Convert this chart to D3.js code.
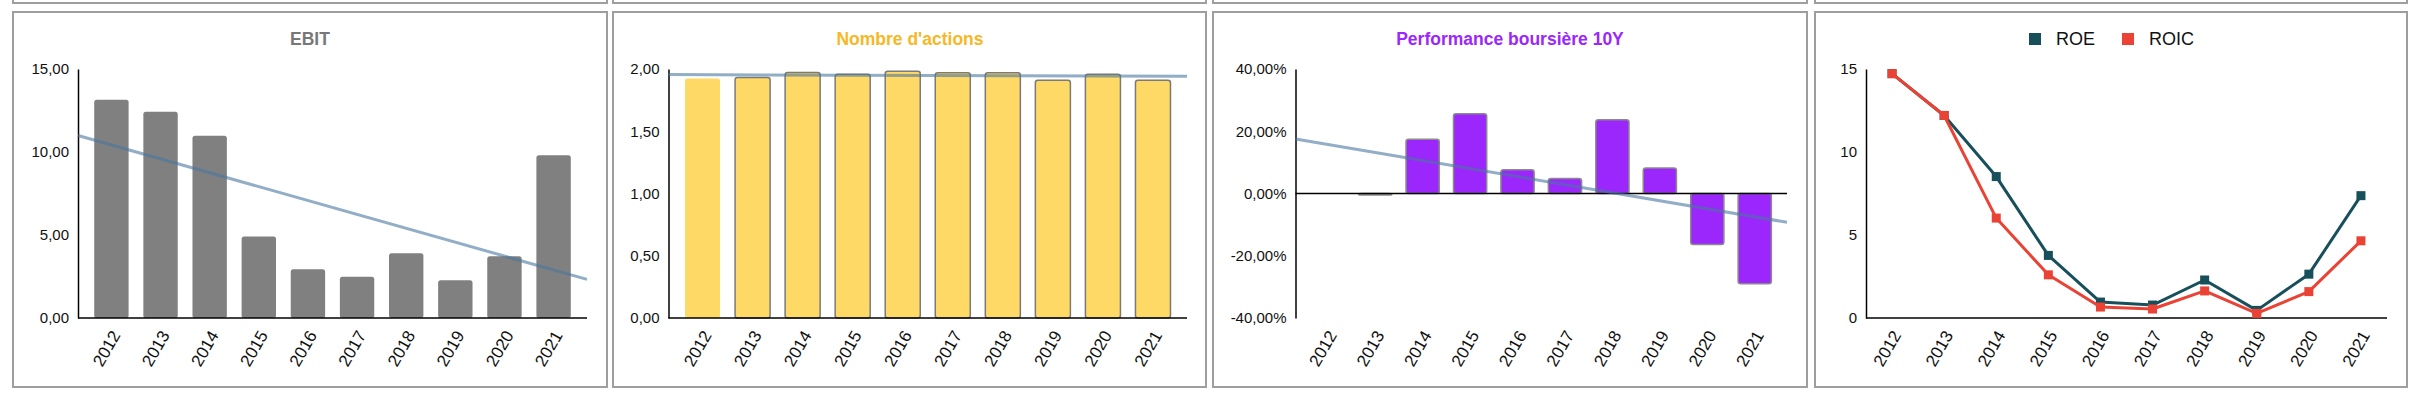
<!DOCTYPE html>
<html>
<head>
<meta charset="utf-8">
<script src="https://cdn.jsdelivr.net/npm/d3@7"></script>
<style>
  body { margin: 0; background: #fff; }
  svg { display: block; font-family: "Liberation Sans", Arial, sans-serif; }
</style>
</head>
<body>
<div id="chart"></div>
<script>
// données
const years = ['2012', '2013', '2014', '2015', '2016', '2017', '2018', '2019', '2020', '2021'];
const ebit = [13.15, 12.43, 10.98, 4.91, 2.94, 2.48, 3.90, 2.27, 3.72, 9.81];
const nbActions = [1.923, 1.931, 1.971, 1.958, 1.982, 1.969, 1.969, 1.909, 1.958, 1.909];
const perf10y = [0, -0.005, 0.174, 0.256, 0.076, 0.048, 0.237, 0.082, -0.164, -0.290];
const roe = [14.72, 12.20, 8.52, 3.77, 0.96, 0.78, 2.29, 0.46, 2.64, 7.37];
const roic = [14.72, 12.20, 6.02, 2.60, 0.66, 0.54, 1.63, 0.28, 1.59, 4.65];

const ebitTicks = [0, 5, 10, 15];
const actionsTicks = [0, 0.5, 1, 1.5, 2];
const perfTicks = [-0.4, -0.2, 0, 0.2, 0.4];
const ratioTicks = [0, 5, 10, 15];

const width = 2420;
const height = 396;
const plotTop = 69;
const plotBottom = 318;

const fr = d3.formatLocale({ decimal: ',', thousands: ' ', grouping: [3], currency: ['', ' €'], minus: '-' });

const svg = d3.select('#chart')
    .append('svg')
    .attr('width', width)
    .attr('height', height);

// cadres des 4 panneaux
const panels = [[13, 594], [613, 593], [1213, 594], [1815, 592]];
panels.forEach(function(p) {
    svg.append('rect')
        .attr('x', p[0]).attr('y', -380)
        .attr('width', p[1]).attr('height', 383)
        .attr('fill', 'none').attr('stroke', '#9e9e9e').attr('stroke-width', 2);
    svg.append('rect')
        .attr('x', p[0]).attr('y', 12)
        .attr('width', p[1]).attr('height', 375)
        .attr('fill', 'none').attr('stroke', '#9e9e9e').attr('stroke-width', 2);
});

function title(cx, text, color) {
    svg.append('text')
        .attr('x', cx).attr('y', 45)
        .attr('text-anchor', 'middle')
        .attr('font-size', '17.5px')
        .attr('font-weight', 'bold')
        .attr('fill', color)
        .text(text);
}

function yAxis(x, yScale, ticks, fmt) {
    const g = svg.append('g')
        .attr('transform', 'translate(' + x + ',0)')
        .call(d3.axisLeft(yScale).tickValues(ticks).tickFormat(fmt).tickSize(0).tickPadding(9));
    g.select('.domain').attr('stroke', '#000').attr('stroke-width', 1.5);
    g.selectAll('text').attr('font-size', '15px').attr('fill', '#111').attr('font-family', null);
}

function yearLabels(centerOf) {
    svg.append('g')
        .selectAll('text')
        .data(years)
        .enter()
        .append('text')
        .attr('transform', function(d) {
            return 'translate(' + (centerOf(d) + 4.5) + ',' + (plotBottom + 14) + ') rotate(-60)';
        })
        .attr('text-anchor', 'end')
        .attr('dy', '0.35em')
        .attr('font-size', '17px')
        .attr('fill', '#111')
        .text(function(d) { return d; });
}

// droite de tendance (moindres carrés), prolongée sur toute la largeur
function trendLine(xScale, yScale, values, left, right) {
    const xm = d3.mean(values, function(v, i) { return i; });
    const ym = d3.mean(values);
    let sxy = 0;
    let sxx = 0;
    values.forEach(function(v, i) {
        sxy += (i - xm) * (v - ym);
        sxx += (i - xm) * (i - xm);
    });
    const slope = sxy / sxx;
    const x0 = xScale(years[0]) + xScale.bandwidth() / 2;
    const step = xScale.step();
    const at = function(px) {
        const i = (px - x0) / step;
        return ym + slope * (i - xm);
    };
    svg.append('line')
        .attr('x1', left).attr('y1', yScale(at(left)))
        .attr('x2', right).attr('y2', yScale(at(right)))
        .attr('stroke', '#4a76a0')
        .attr('stroke-opacity', 0.6)
        .attr('stroke-width', 3);
}

function barPanel(cfg) {
    const xScale = d3.scaleBand()
        .domain(years)
        .range([cfg.left, cfg.right])
        .paddingInner(0.3)
        .paddingOuter(0.33);
    const yScale = d3.scaleLinear()
        .domain(cfg.domain)
        .range([plotBottom, plotTop]);
    const base = yScale(0);

    svg.append('g')
        .selectAll('rect')
        .data(cfg.values)
        .enter()
        .append('rect')
        .attr('x', function(d, i) { return xScale(years[i]); })
        .attr('y', function(d) { return Math.min(yScale(d), base); })
        .attr('width', xScale.bandwidth())
        .attr('height', function(d) { return Math.abs(yScale(d) - base); })
        .attr('rx', 2.5)
        .attr('fill', cfg.fill)
        .attr('stroke', function(d, i) { return cfg.stroke && !(cfg.noStrokeFirst && i === 0) ? cfg.stroke : 'none'; })
        .attr('stroke-width', 1.5);

    yAxis(cfg.left, yScale, cfg.ticks, cfg.format);
    svg.append('line')
        .attr('x1', cfg.left).attr('x2', cfg.right)
        .attr('y1', base).attr('y2', base)
        .attr('stroke', '#000').attr('stroke-width', 1.5);

    trendLine(xScale, yScale, cfg.values, cfg.left, cfg.right);
    yearLabels(function(d) { return xScale(d) + xScale.bandwidth() / 2; });
}

// EBIT
title(310, 'EBIT', '#777777');
barPanel({
    left: 78, right: 587, values: ebit, domain: [0, 15], ticks: ebitTicks,
    format: fr.format('.2f'), fill: '#808080', stroke: null
});

// Nombre d'actions
title(910, "Nombre d'actions", '#f6b826');
barPanel({
    left: 668.5, right: 1187, values: nbActions, domain: [0, 2], ticks: actionsTicks,
    format: fr.format('.2f'), fill: '#ffd966', stroke: '#7a7a7a', noStrokeFirst: true
});

// Performance boursière
title(1510, 'Performance boursière 10Y', '#9b27fc');
barPanel({
    left: 1295.5, right: 1787, values: perf10y, domain: [-0.4, 0.4], ticks: perfTicks,
    format: fr.format('.2%'), fill: '#9b27fc', stroke: '#8a8a8a'
});

// ROE / ROIC
const xPoint = d3.scalePoint()
    .domain(years)
    .range([1866, 2387])
    .padding(0.5);
const yRatio = d3.scaleLinear()
    .domain([0, 15])
    .range([plotBottom, plotTop]);

yAxis(1866, yRatio, ratioTicks, fr.format('d'));
svg.append('line')
    .attr('x1', 1866).attr('x2', 2387)
    .attr('y1', plotBottom).attr('y2', plotBottom)
    .attr('stroke', '#000').attr('stroke-width', 1.5);

const series = [
    { name: 'ROE', values: roe, color: '#174f5a' },
    { name: 'ROIC', values: roic, color: '#ea4335' }
];

const line = d3.line()
    .x(function(d, i) { return xPoint(years[i]); })
    .y(function(d) { return yRatio(d); });

series.forEach(function(s) {
    svg.append('path')
        .attr('d', line(s.values))
        .attr('fill', 'none')
        .attr('stroke', s.color)
        .attr('stroke-width', 3)
        .attr('stroke-linejoin', 'round');
    svg.append('g')
        .selectAll('rect')
        .data(s.values)
        .enter()
        .append('rect')
        .attr('x', function(d, i) { return xPoint(years[i]) - 4.5; })
        .attr('y', function(d) { return yRatio(d) - 4.5; })
        .attr('width', 9)
        .attr('height', 9)
        .attr('fill', s.color);
});

yearLabels(function(d) { return xPoint(d); });

// légende
const legendX = [2029, 2122];
const legend = svg.append('g')
    .selectAll('g')
    .data(series)
    .enter()
    .append('g')
    .attr('transform', function(d, i) { return 'translate(' + legendX[i] + ',33)'; });
legend.append('rect')
    .attr('width', 12).attr('height', 12)
    .attr('fill', function(d) { return d.color; });
legend.append('text')
    .attr('x', 27).attr('y', 12)
    .attr('font-size', '18px')
    .attr('fill', '#111')
    .text(function(d) { return d.name; });
</script>
</body>
</html>
